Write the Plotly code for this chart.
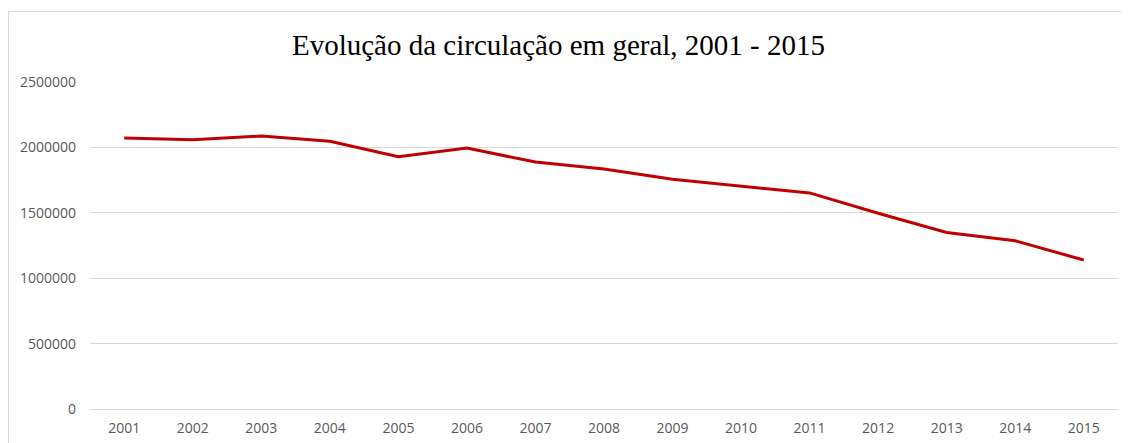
import plotly.graph_objects as go

years = ["2001", "2002", "2003", "2004", "2005", "2006", "2007", "2008",
         "2009", "2010", "2011", "2012", "2013", "2014", "2015"]
circulacao = [2072000, 2059000, 2087000, 2047000, 1929000, 1995000, 1888000,
              1835000, 1756000, 1704000, 1652000, 1497000, 1349000, 1286000, 1139000]
y_ticks = [0, 500000, 1000000, 1500000, 2000000, 2500000]
title_text = "Evolução da circulação em geral, 2001 - 2015"

# the page body has an 8px margin, so the figure is drawn 8px in from the corner
W, H = 1121, 435
L, R, T, B = 82, 11, 74, 34
pw, ph = W - L - R, H - T - B

fig = go.Figure()
fig.add_trace(go.Scatter(
    x=years, y=circulacao, mode="lines",
    line=dict(color="#C00000", width=3),
    hoverinfo="x+y", showlegend=False,
))

# outer chart border (light gray frame), open at the bottom and right like the reference crop
fig.add_shape(type="path", xref="paper", yref="paper",
              path="M {x0},{yb} L {x0},{yt} L {x1},{yt}".format(
                  x0=(0.5 - L) / pw, x1=(W - L) / pw,
                  yb=-B / ph, yt=(H - B - 3.5) / ph),
              line=dict(color="#d9d9d9", width=1), layer="below")

fig.update_layout(
    width=W, height=H, autosize=False,
    margin=dict(l=L, r=R, t=T, b=B, pad=0, autoexpand=False),
    paper_bgcolor="white", plot_bgcolor="white",
    title=dict(text=title_text, x=550.5 / W, xanchor="center", y=1 - 37 / H, yanchor="middle",
               automargin=False,
               font=dict(family="Liberation Serif, Times New Roman, serif", size=29, color="#000000")),
    xaxis=dict(type="category", range=[-0.5, 14.5], showgrid=False, showline=False,
               automargin=False,
               ticks="", tickfont=dict(family="Open Sans, sans-serif", size=14, color="#595959"),
               ticklabelstandoff=9),
    yaxis=dict(range=[0, 2500000], tickvals=y_ticks, ticktext=[str(v) for v in y_ticks],
               automargin=False,
               showgrid=True, gridcolor="#d9d9d9", gridwidth=1,
               zeroline=True, zerolinecolor="#d9d9d9", zerolinewidth=1,
               showline=False, ticks="",
               tickfont=dict(family="Open Sans, sans-serif", size=14, color="#595959"),
               ticklabelstandoff=13),
)

fig.write_html("out.html")
